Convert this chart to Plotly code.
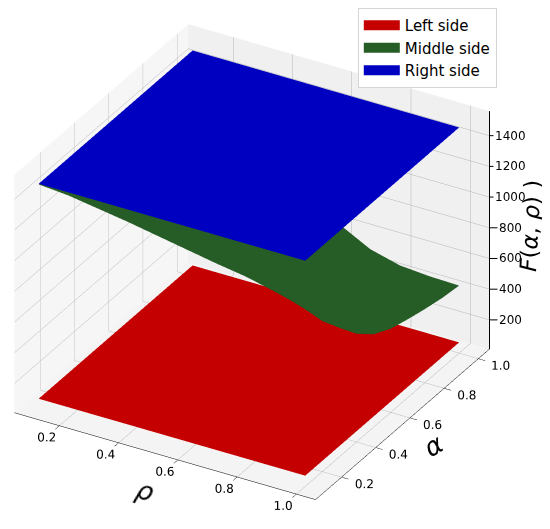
import plotly.graph_objects as go

rho = [0.1, 0.2, 0.3, 0.4, 0.5, 0.6, 0.7, 0.8, 0.9, 1.0]
alpha = [0.1, 0.2, 0.3, 0.4, 0.5, 0.6, 0.7, 0.8, 0.9, 1.0]

left_side = [[80] * 10 for _ in alpha]
right_side = [[1480] * 10 for _ in alpha]
middle_side = [
    [1476, 1460, 1430, 1400, 1365, 1330, 1295, 1265, 1220, 1170],
    [1476, 1450, 1410, 1360, 1310, 1255, 1200, 1140, 1070, 990],
    [1476, 1445, 1390, 1320, 1250, 1170, 1090, 1010, 930, 850],
    [1476, 1440, 1370, 1280, 1180, 1080, 980, 880, 790, 715],
    [1476, 1430, 1350, 1240, 1110, 990, 870, 770, 680, 615],
    [1476, 1425, 1330, 1200, 1050, 900, 770, 670, 600, 555],
    [1476, 1420, 1310, 1160, 990, 820, 690, 600, 550, 520],
    [1476, 1415, 1290, 1120, 930, 750, 620, 540, 505, 490],
    [1476, 1410, 1270, 1080, 870, 680, 565, 500, 475, 465],
    [1476, 1400, 1250, 1040, 810, 620, 520, 470, 455, 450],
]
names = ["Left side", "Middle side", "Right side"]
colors = ["#c40000", "#265c26", "#0000c0"]
x_ticks = [0.2, 0.4, 0.6, 0.8, 1.0]
y_ticks = [0.2, 0.4, 0.6, 0.8, 1.0]
z_ticks = [200, 400, 600, 800, 1000, 1200, 1400]
x_range = [0.048, 1.065]
y_range = [0.048, 1.065]
z_range = [10, 1560]
FONT = "DejaVu Sans"

fig = go.Figure()
for z, c in zip([left_side, middle_side, right_side], colors):
    fig.add_trace(go.Surface(
        x=rho, y=alpha, z=z, surfacecolor=[[0] * 10 for _ in alpha],
        colorscale=[[0, c], [1, c]], showscale=False, showlegend=False,
        lighting=dict(ambient=1, diffuse=0, specular=0, roughness=1, fresnel=0),
        hoverinfo="skip", contours=dict(x=dict(highlight=False), y=dict(highlight=False), z=dict(highlight=False)),
    ))
fig.add_trace(go.Scatter3d(x=[x_range[1]] * 2, y=[y_range[1]] * 2, z=z_range, mode="lines",
                           line=dict(color="#000000", width=2), showlegend=False, hoverinfo="skip"))
for n, c in zip(names, colors):
    fig.add_trace(go.Scatter(x=[None], y=[None], mode="lines", name=n,
                             line=dict(color=c, width=11), xaxis="x", yaxis="y"))


def axis(ticks, rng, bg, native=True):
    return dict(title=dict(text=""), tickvals=ticks, ticktext=[str(t) for t in ticks], range=rng,
                showbackground=True, backgroundcolor=bg, gridcolor="#b4b4b4", gridwidth=1,
                showline=native, linecolor="#000000", linewidth=1, ticks="outside" if native else "", ticklen=8,
                tickcolor="#000000", tickfont=dict(family=FONT, size=12, color="#000000"), tickangle=0,
                showticklabels=native, zeroline=False, showspikes=False)


k = 1.33
d = 1.68 * k
shift = (0.087 * k, 0.028 * k, -0.034 * k)
z_labels = [dict(x=x_range[1], y=y_range[1], z=t, text=str(t), showarrow=True, arrowhead=0, arrowwidth=1,
                 arrowcolor="#000000", ax=21, ay=0, font=dict(family=FONT, size=12, color="#000000"))
            for t in z_ticks]

fig.update_layout(
    width=550, height=529, margin=dict(l=0, r=0, t=0, b=0), paper_bgcolor="white",
    font=dict(family=FONT, color="#000000"),
    xaxis=dict(visible=False), yaxis=dict(visible=False), plot_bgcolor="rgba(0,0,0,0)",
    showlegend=True,
    legend=dict(x=0.636, y=1.012, xanchor="left", yanchor="top", bgcolor="white",
                bordercolor="#d5d5d5", borderwidth=1, font=dict(family=FONT, size=15),
                itemwidth=36, entrywidth=112, tracegroupgap=0),
    scene=dict(
        domain=dict(x=[0, 1], y=[0, 1]),
        xaxis=axis(x_ticks, x_range, "#f6f6f6"),
        yaxis=axis(y_ticks, y_range, "#f0f0f0"),
        zaxis=axis(z_ticks, z_range, "#f4f4f4", native=False),
        aspectmode="manual", aspectratio=dict(x=k, y=k, z=0.79 * k),
        annotations=z_labels,
        camera=dict(eye=dict(x=0.433 * d + shift[0], y=-0.75 * d + shift[1], z=0.5 * d + shift[2]),
                    up=dict(x=0, y=0, z=1),
                    center=dict(x=shift[0], y=shift[1], z=shift[2]),
                    projection=dict(type="orthographic")),
    ),
    annotations=[
        dict(text="<i>ρ</i>", x=137 / 550, y=1 - 482 / 529, xref="paper", yref="paper", showarrow=False,
             xanchor="center", yanchor="middle", textangle=20, font=dict(size=26)),
        dict(text="<i>α</i>", x=425 / 550, y=1 - 437 / 529, xref="paper", yref="paper", showarrow=False,
             xanchor="center", yanchor="middle", textangle=-30, font=dict(size=26)),
        dict(text="<i>F</i>(<i>α</i>, <i>ρ</i>) )", x=522 / 550, y=1 - 214 / 529, xref="paper", yref="paper",
             showarrow=False, xanchor="center", yanchor="middle", textangle=-87, font=dict(size=23)),
    ],
)
fig.write_html("out.html")
